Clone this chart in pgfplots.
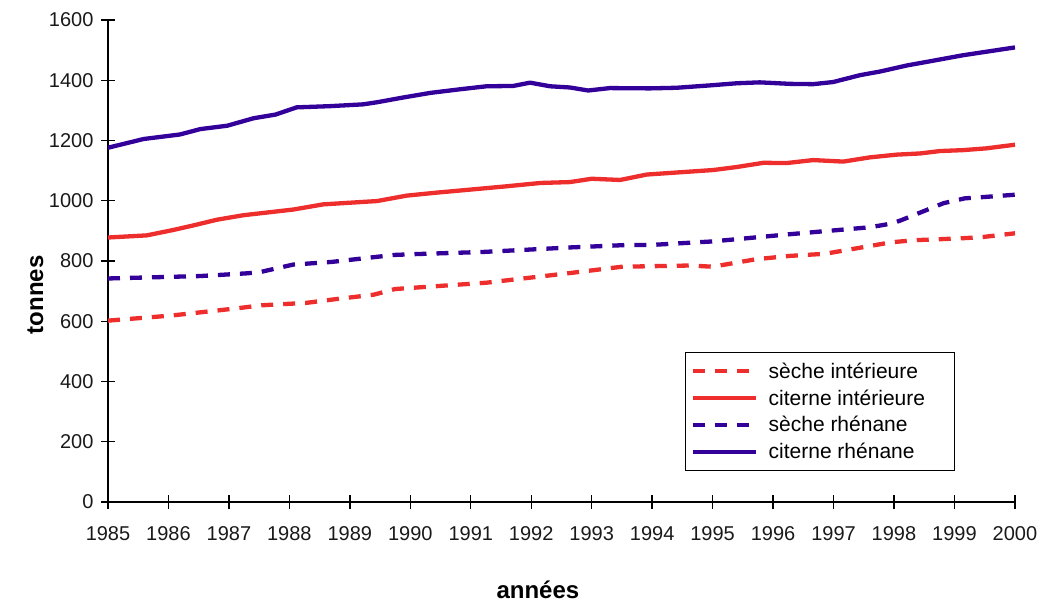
\documentclass[border=0pt]{standalone}
\usepackage{fontspec}
\setmainfont{Liberation Sans}
\usepackage{pgfplots}
\pgfplotsset{compat=1.18}
\definecolor{rouge}{RGB}{238,45,45}
\definecolor{violet}{RGB}{51,0,153}
\tikzset{seche/.style={line width=4.3pt, dash pattern=on 12pt off 10pt, line join=round},
         citerne/.style={line width=4.3pt, line join=round}}

\begin{document}
\begin{tikzpicture}
\path[use as bounding box] (-108pt,-101pt) rectangle (937pt,502pt);
\begin{axis}[at={(0pt,0pt)}, anchor=south west,
  width=907pt, height=482pt, scale only axis,
  xmin=1985, xmax=2000, ymin=0, ymax=1600,
  xtick={1985,...,2000}, ytick={0,200,...,1600},
  axis x line*=bottom, axis y line*=left,
  axis line style={-, line width=1.5pt, black},
  tick style={line width=1.4pt, black}, major tick length=14pt, tick align=center,
  /pgf/number format/1000 sep={}, /pgf/number format/assume math mode=true,
  ticklabel style={font=\fontsize{20}{24}\selectfont, color=black!90},
  xticklabel style={yshift=-14pt},
  yticklabel style={xshift=-4pt},
  xlabel={années}, ylabel={tonnes},
  xlabel style={font=\bfseries\fontsize{24}{28}\selectfont, at={(axis description cs:0.474,-0.183)}, anchor=center},
  ylabel style={font=\bfseries\fontsize{24}{28}\selectfont, at={(axis description cs:-0.08,0.43)}, anchor=center},
  legend style={at={(axis description cs:0.636,0.311)}, anchor=north west, draw=black, line width=1pt,
    font=\fontsize{21}{25}\selectfont, inner xsep=5pt, inner ysep=8pt, row sep=6pt},
  legend cell align=left,
  legend image code/.code={\draw[#1] (0pt,0pt) -- (63pt,0pt);},
]
% sèche intérieure
\addplot[rouge, seche] coordinates {(1985,602) (1986.05,619) (1987.18,644) (1987.54,653) (1988.28,661) (1988.75,673) (1989.39,688) (1989.75,707) (1991.26,728) (1992.64,760) (1993.5,781) (1994.62,785) (1995.0,781) (1995.72,806) (1996.28,817) (1996.86,824) (1997.95,862) (1998.33,869) (1999.08,875) (1999.44,879) (2000,892)};
\addlegendentry{\makebox[188pt][l]{\hspace{9pt}sèche intérieure}}
% citerne intérieure
\addplot[rouge, citerne] coordinates {(1985,878) (1985.64,885) (1986.08,903) (1986.41,918) (1986.80,937) (1987.24,952) (1987.68,962) (1988.07,971) (1988.56,988) (1989.45,999) (1989.94,1017) (1990.44,1027) (1990.99,1037) (1991.54,1047) (1992.15,1059) (1992.64,1062) (1993.00,1073) (1993.47,1069) (1993.91,1087) (1994.57,1096) (1995.01,1102) (1995.40,1112) (1995.84,1126) (1996.22,1125) (1996.66,1135) (1997.16,1130) (1997.60,1144) (1998.04,1153) (1998.43,1157) (1998.76,1165) (1999.14,1168) (1999.53,1174) (2000,1186)};
\addlegendentry{\hspace{9pt}citerne intérieure}
% sèche rhénane
\addplot[violet, seche] coordinates {(1985,742) (1986.52,750) (1987.29,759) (1987.51,763) (1988.06,788) (1988.7,797) (1989.72,820) (1990.1,823) (1991.2,830) (1991.98,838) (1992.64,845) (1993.57,853) (1993.96,853) (1995.0,865) (1996.28,889) (1997.6,912) (1997.95,924) (1998.1,934) (1998.82,992) (1999.17,1008) (1999.53,1013) (2000,1020)};
\addlegendentry{\hspace{9pt}sèche rhénane}
% citerne rhénane
\addplot[violet, citerne] coordinates {(1985,1176) (1985.59,1205) (1986.19,1220) (1986.53,1238) (1986.97,1249) (1987.41,1274) (1987.77,1286) (1988.12,1310) (1988.67,1314) (1989.22,1320) (1989.45,1327) (1989.89,1343) (1990.33,1358) (1990.82,1370) (1991.26,1380) (1991.70,1381) (1991.98,1392) (1992.31,1380) (1992.64,1376) (1992.94,1366) (1993.30,1374) (1993.96,1373) (1994.40,1375) (1994.96,1383) (1995.40,1390) (1995.78,1393) (1996.28,1388) (1996.66,1387) (1996.99,1394) (1997.44,1417) (1997.77,1429) (1998.21,1449) (1998.65,1465) (1999.14,1483) (2000,1509)};
\addlegendentry{\hspace{9pt}citerne rhénane}
\end{axis}
\end{tikzpicture}
\end{document}
